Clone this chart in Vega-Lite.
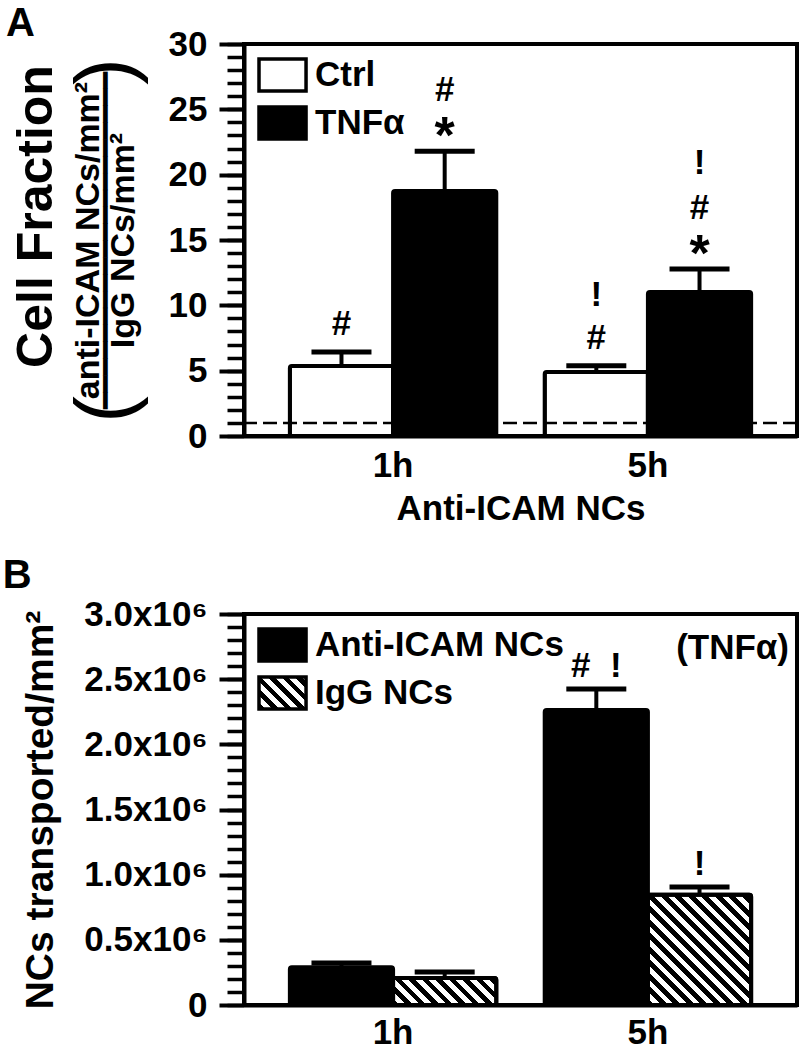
{
  "$schema": "https://vega.github.io/schema/vega-lite/v6.json",
  "padding": {"left": 0, "top": 2, "right": 0, "bottom": 0},
  "spacing": 26,
  "resolve": {"scale": {"fill": "independent", "xOffset": "independent", "x": "independent", "y": "independent"}, "legend": {"fill": "independent"}},
  "config": {
    "font": "Liberation Sans",
    "view": {"stroke": "black", "strokeWidth": 4},
    "axis": {
      "minExtent": 0, "maxExtent": 400, "grid": false,
      "domainColor": "black", "domainWidth": 4, "tickColor": "black",
      "labelColor": "black", "titleColor": "black",
      "labelFont": "Liberation Sans", "labelFontWeight": "bold", "labelFontSize": 35,
      "titleFont": "Liberation Sans", "titleFontWeight": "bold",
      "titleLimit": 1000, "labelLimit": 1000
    },
    "legend": {"labelFont": "Liberation Sans", "labelFontWeight": "bold", "labelFontSize": 35, "labelColor": "black", "labelLimit": 600}
  },
  "vconcat": [
    {
      "width": 553,
      "height": 392,
      "title": {"text": "A", "anchor": "start", "frame": "bounds", "fontSize": 40, "fontWeight": "bold", "font": "Liberation Sans", "baseline": "alphabetic", "offset": -49, "dx": -5},
      "data": {"values": [
        {"time": "1h", "group": "Ctrl", "mean": 5.35, "upper": 6.43, "t0": "#", "t1": "", "t2": "", "t3": "", "star": ""},
        {"time": "1h", "group": "TNFα", "mean": 18.75, "upper": 21.8, "t0": "", "t1": "#", "t2": "", "t3": "", "star": "*"},
        {"time": "5h", "group": "Ctrl", "mean": 4.9, "upper": 5.38, "t0": "#", "t1": "", "t2": "!", "t3": "", "star": ""},
        {"time": "5h", "group": "TNFα", "mean": 11.02, "upper": 12.78, "t0": "", "t1": "#", "t2": "", "t3": "!", "star": "*"}
      ]},
      "layer": [
        {
          "mark": {"type": "bar", "stroke": "black", "strokeWidth": 4, "cornerRadius": 2},
          "encoding": {
            "x": {"field": "time", "type": "nominal", "scale": {"domain": ["1h", "5h"], "paddingInner": 0.19, "paddingOuter": 0.18},
                  "axis": {"ticks": false, "labelPadding": 12, "labelAngle": 0, "title": "Anti-ICAM NCs", "titleFontSize": 35, "titlePadding": 8}},
            "xOffset": {"field": "group", "type": "nominal", "scale": {"domain": ["Ctrl", "TNFα"], "paddingInner": 0, "paddingOuter": 0}},
            "y": {"field": "mean", "type": "quantitative", "scale": {"domain": [0, 30], "nice": false},
                  "axis": {"orient": "left", "values": [0, 5, 10, 15, 20, 25, 30], "tickSize": 25, "tickWidth": 4, "labelPadding": 12,
                           "title": "Cell Fraction", "titleFontSize": 50, "titlePadding": 107, "titleY": 172}},
            "fill": {"field": "group", "type": "nominal", "scale": {"domain": ["Ctrl", "TNFα"], "range": ["white", "black"]},
                     "legend": {"title": null, "orient": "top-left", "offset": 13, "symbolType": "M-1,-1H1.94V1H-1Z", "symbolSize": 1024,
                                "symbolStrokeColor": "black", "symbolStrokeWidth": 3.5, "labelOffset": 22, "rowPadding": 2}}
          }
        },
        {
          "mark": {"type": "rule", "strokeWidth": 4, "color": "black"},
          "encoding": {
            "x": {"field": "time", "type": "nominal", "scale": {"domain": ["1h", "5h"], "paddingInner": 0.19, "paddingOuter": 0.18},
                  "axis": {"ticks": false, "labelPadding": 12, "labelAngle": 0, "title": "Anti-ICAM NCs", "titleFontSize": 35, "titlePadding": 8}},
            "xOffset": {"field": "group", "type": "nominal", "scale": {"domain": ["Ctrl", "TNFα"], "paddingInner": 0, "paddingOuter": 0}},
            "y": {"field": "mean", "type": "quantitative", "scale": {"domain": [0, 30], "nice": false},
                  "axis": {"orient": "left", "values": [0,1,2,3,4,5,6,7,8,9,10,11,12,13,14,15,16,17,18,19,20,21,22,23,24,25,26,27,28,29,30],
                           "tickSize": 17, "tickWidth": 3.5, "labels": false, "domain": false, "title": null}},
            "y2": {"field": "upper"}
          }
        },
        {
          "mark": {"type": "tick", "thickness": 5, "size": 60, "color": "black", "opacity": 1},
          "encoding": {
            "x": {"field": "time", "type": "nominal", "scale": {"domain": ["1h", "5h"], "paddingInner": 0.19, "paddingOuter": 0.18},
                  "axis": {"ticks": false, "labelPadding": 12, "labelAngle": 0, "title": "Anti-ICAM NCs", "titleFontSize": 35, "titlePadding": 8}},
            "xOffset": {"field": "group", "type": "nominal", "scale": {"domain": ["Ctrl", "TNFα"], "paddingInner": 0, "paddingOuter": 0}},
            "y": {"field": "upper", "type": "quantitative", "scale": {"domain": [0, 30], "nice": false},
                  "axis": {"orient": "left", "labels": false, "ticks": false, "domain": false,
                           "title": ["anti-ICAM NCs/mm²", "IgG NCs/mm²"], "titleFontSize": 34, "titleLineHeight": 35, "titlePadding": 104}}
          }
        },
        {
          "mark": {"type": "text", "baseline": "alphabetic", "dy": -16.5, "fontSize": 35, "fontWeight": "bold", "color": "black"},
          "encoding": {
            "x": {"field": "time", "type": "nominal", "scale": {"domain": ["1h", "5h"], "paddingInner": 0.19, "paddingOuter": 0.18},
                  "axis": {"ticks": false, "labelPadding": 12, "labelAngle": 0, "title": "Anti-ICAM NCs", "titleFontSize": 35, "titlePadding": 8}},
            "xOffset": {"field": "group", "type": "nominal", "scale": {"domain": ["Ctrl", "TNFα"], "paddingInner": 0, "paddingOuter": 0}},
            "y": {"field": "upper", "type": "quantitative", "scale": {"domain": [0, 30], "nice": false},
                  "axis": {"orient": "left", "labels": false, "ticks": false, "domain": false,
                           "title": "━━━━━━━━━━━━━━━━━━━━", "titleFont": "DejaVu Sans", "titleFontWeight": "normal", "titleFontSize": 28, "titlePadding": 124}},
            "text": {"field": "t0"}
          }
        },
        {
          "mark": {"type": "text", "baseline": "alphabetic", "dy": -50, "fontSize": 35, "fontWeight": "bold", "color": "black"},
          "encoding": {
            "x": {"field": "time", "type": "nominal", "scale": {"domain": ["1h", "5h"], "paddingInner": 0.19, "paddingOuter": 0.18},
                  "axis": {"ticks": false, "labelPadding": 12, "labelAngle": 0, "title": "Anti-ICAM NCs", "titleFontSize": 35, "titlePadding": 8}},
            "xOffset": {"field": "group", "type": "nominal", "scale": {"domain": ["Ctrl", "TNFα"], "paddingInner": 0, "paddingOuter": 0}},
            "y": {"field": "upper", "type": "quantitative", "scale": {"domain": [0, 30], "nice": false},
                  "axis": {"orient": "left", "labels": false, "ticks": false, "domain": false,
                           "title": "(\u00a0\u00a0\u00a0\u00a0\u00a0\u00a0\u00a0\u00a0\u00a0\u00a0\u00a0\u00a0\u00a0\u00a0)", "titleFontWeight": "normal", "titleFontSize": 80, "titlePadding": 97}},
            "text": {"field": "t1"}
          }
        },
        {
          "mark": {"type": "text", "baseline": "alphabetic", "dy": -60, "fontSize": 35, "fontWeight": "bold", "color": "black"},
          "encoding": {
            "x": {"field": "time", "type": "nominal", "scale": {"domain": ["1h", "5h"], "paddingInner": 0.19, "paddingOuter": 0.18},
                  "axis": {"ticks": false, "labelPadding": 12, "labelAngle": 0, "title": "Anti-ICAM NCs", "titleFontSize": 35, "titlePadding": 8}},
            "xOffset": {"field": "group", "type": "nominal", "scale": {"domain": ["Ctrl", "TNFα"], "paddingInner": 0, "paddingOuter": 0}},
            "y": {"field": "upper", "type": "quantitative", "scale": {"domain": [0, 30], "nice": false}, "axis": null},
            "text": {"field": "t2"}
          }
        },
        {
          "mark": {"type": "text", "baseline": "alphabetic", "dy": -95, "fontSize": 35, "fontWeight": "bold", "color": "black"},
          "encoding": {
            "x": {"field": "time", "type": "nominal", "scale": {"domain": ["1h", "5h"], "paddingInner": 0.19, "paddingOuter": 0.18},
                  "axis": {"ticks": false, "labelPadding": 12, "labelAngle": 0, "title": "Anti-ICAM NCs", "titleFontSize": 35, "titlePadding": 8}},
            "xOffset": {"field": "group", "type": "nominal", "scale": {"domain": ["Ctrl", "TNFα"], "paddingInner": 0, "paddingOuter": 0}},
            "y": {"field": "upper", "type": "quantitative", "scale": {"domain": [0, 30], "nice": false}, "axis": null},
            "text": {"field": "t3"}
          }
        },
        {
          "mark": {"type": "text", "baseline": "alphabetic", "dy": 2.2, "fontSize": 52, "fontWeight": "bold", "color": "black"},
          "encoding": {
            "x": {"field": "time", "type": "nominal", "scale": {"domain": ["1h", "5h"], "paddingInner": 0.19, "paddingOuter": 0.18},
                  "axis": {"ticks": false, "labelPadding": 12, "labelAngle": 0, "title": "Anti-ICAM NCs", "titleFontSize": 35, "titlePadding": 8}},
            "xOffset": {"field": "group", "type": "nominal", "scale": {"domain": ["Ctrl", "TNFα"], "paddingInner": 0, "paddingOuter": 0}},
            "y": {"field": "upper", "type": "quantitative", "scale": {"domain": [0, 30], "nice": false}, "axis": null},
            "text": {"field": "star"}
          }
        },
        {
          "data": {"values": [{"ref": 1}]},
          "mark": {"type": "rule", "strokeDash": [14, 6], "strokeWidth": 2.5, "color": "black"},
          "encoding": {
            "y": {"field": "ref", "type": "quantitative", "scale": {"domain": [0, 30], "nice": false}, "axis": null}
          }
        }
      ],
      "resolve": {"axis": {"y": "independent"}}
    },
    {
      "width": 553,
      "height": 391,
      "title": {"text": "B", "anchor": "start", "frame": "bounds", "fontSize": 40, "fontWeight": "bold", "font": "Liberation Sans", "baseline": "alphabetic", "offset": -31, "dx": -19},
      "data": {"values": [
        {"time": "1h", "group": "Anti-ICAM NCs", "mean": 290000, "upper": 323000, "note": ""},
        {"time": "1h", "group": "IgG NCs", "mean": 207000, "upper": 253000, "note": ""},
        {"time": "5h", "group": "Anti-ICAM NCs", "mean": 2263000, "upper": 2425000, "note": "#\u00a0\u00a0!"},
        {"time": "5h", "group": "IgG NCs", "mean": 845000, "upper": 905000, "note": "!"}
      ]},
      "layer": [
        {
          "mark": {"type": "bar", "stroke": "black", "strokeWidth": 4, "cornerRadius": 2},
          "encoding": {
            "x": {"field": "time", "type": "nominal", "scale": {"domain": ["1h", "5h"], "paddingInner": 0.19, "paddingOuter": 0.18},
                  "axis": {"ticks": false, "labelPadding": 10, "labelAngle": 0, "title": null}},
            "xOffset": {"field": "group", "type": "nominal", "scale": {"domain": ["Anti-ICAM NCs", "IgG NCs"], "paddingInner": 0, "paddingOuter": 0}},
            "y": {"field": "mean", "type": "quantitative", "scale": {"domain": [0, 3000000], "nice": false},
                  "axis": {"orient": "left", "values": [0, 500000, 1000000, 1500000, 2000000, 2500000, 3000000],
                           "labelExpr": "datum.value === 0 ? '0' : format(datum.value / 1000000, '.1f') + 'x10⁶'",
                           "tickSize": 25, "tickWidth": 4, "labelPadding": 12,
                           "title": "NCs transported/mm²", "titleFontSize": 39, "titlePadding": 23}},
            "fill": {
              "field": "group", "type": "nominal",
              "scale": {"domain": ["Anti-ICAM NCs", "IgG NCs"], "range": ["black", {"expr": "{gradient: 'linear', x1: 0, y1: 1, x2: 1.1485, y2: 0.2181, stops: [{offset: 0, color: 'black'}, {offset: 0.0854, color: 'black'}, {offset: 0.0854, color: 'white'}, {offset: 0.1709, color: 'white'}, {offset: 0.1709, color: 'black'}, {offset: 0.2563, color: 'black'}, {offset: 0.2563, color: 'white'}, {offset: 0.3418, color: 'white'}, {offset: 0.3418, color: 'black'}, {offset: 0.4272, color: 'black'}, {offset: 0.4272, color: 'white'}, {offset: 0.5127, color: 'white'}, {offset: 0.5127, color: 'black'}, {offset: 0.5981, color: 'black'}, {offset: 0.5981, color: 'white'}, {offset: 0.6836, color: 'white'}, {offset: 0.6836, color: 'black'}, {offset: 0.769, color: 'black'}, {offset: 0.769, color: 'white'}, {offset: 0.8544, color: 'white'}, {offset: 0.8544, color: 'black'}, {offset: 0.9399, color: 'black'}, {offset: 0.9399, color: 'white'}, {offset: 1, color: 'white'}]}"}]},
              "legend": {
                "title": null, "orient": "top-left", "offset": 13, "symbolType": "M-1,-1H1.94V1H-1Z", "symbolSize": 1024,
                "symbolStrokeColor": "black", "symbolStrokeWidth": 3.5, "labelOffset": 22, "rowPadding": 2
              }
            }
          }
        },
        {
          "transform": [{"filter": "datum.group === 'IgG NCs' && datum.time === '1h'"}],
          "mark": {"type": "bar", "stroke": "black", "strokeWidth": 4, "cornerRadius": 2,
                   "fill": {"gradient": "linear", "x1": 0, "y1": 1, "x2": 1.1808, "y2": 0.6911, "stops": [
                   {"offset": 0, "color": "black"}, {"offset": 0.0519, "color": "black"}, {"offset": 0.0519, "color": "white"}, {"offset": 0.1037, "color": "white"},
                   {"offset": 0.1037, "color": "black"}, {"offset": 0.1556, "color": "black"}, {"offset": 0.1556, "color": "white"}, {"offset": 0.2075, "color": "white"},
                   {"offset": 0.2075, "color": "black"}, {"offset": 0.2593, "color": "black"}, {"offset": 0.2593, "color": "white"}, {"offset": 0.3112, "color": "white"},
                   {"offset": 0.3112, "color": "black"}, {"offset": 0.3631, "color": "black"}, {"offset": 0.3631, "color": "white"}, {"offset": 0.4149, "color": "white"},
                   {"offset": 0.4149, "color": "black"}, {"offset": 0.4668, "color": "black"}, {"offset": 0.4668, "color": "white"}, {"offset": 0.5187, "color": "white"},
                   {"offset": 0.5187, "color": "black"}, {"offset": 0.5705, "color": "black"}, {"offset": 0.5705, "color": "white"}, {"offset": 0.6224, "color": "white"},
                   {"offset": 0.6224, "color": "black"}, {"offset": 0.6743, "color": "black"}, {"offset": 0.6743, "color": "white"}, {"offset": 0.7261, "color": "white"},
                   {"offset": 0.7261, "color": "black"}, {"offset": 0.778, "color": "black"}, {"offset": 0.778, "color": "white"}, {"offset": 0.8298, "color": "white"},
                   {"offset": 0.8298, "color": "black"}, {"offset": 0.8817, "color": "black"}, {"offset": 0.8817, "color": "white"}, {"offset": 0.9336, "color": "white"},
                   {"offset": 0.9336, "color": "black"}, {"offset": 0.9855, "color": "black"}, {"offset": 0.9855, "color": "white"}, {"offset": 1, "color": "white"}]}},
          "encoding": {
            "x": {"field": "time", "type": "nominal", "scale": {"domain": ["1h", "5h"], "paddingInner": 0.19, "paddingOuter": 0.18},
                  "axis": {"ticks": false, "labelPadding": 10, "labelAngle": 0, "title": null}},
            "xOffset": {"field": "group", "type": "nominal", "scale": {"domain": ["Anti-ICAM NCs", "IgG NCs"], "paddingInner": 0, "paddingOuter": 0}},
            "y": {"field": "mean", "type": "quantitative", "scale": {"domain": [0, 3000000], "nice": false}, "axis": null}
          }
        },
        {
          "transform": [{"filter": "datum.group === 'IgG NCs' && datum.time === '5h'"}],
          "mark": {"type": "bar", "stroke": "black", "strokeWidth": 4, "cornerRadius": 2,
                   "fill": {"gradient": "linear", "x1": 0, "y1": 1, "x2": 0.9667, "y2": -0.0313, "stops": [
                   {"offset": 0, "color": "black"}, {"offset": 0.0316, "color": "black"}, {"offset": 0.0316, "color": "white"}, {"offset": 0.0633, "color": "white"},
                   {"offset": 0.0633, "color": "black"}, {"offset": 0.0949, "color": "black"}, {"offset": 0.0949, "color": "white"}, {"offset": 0.1266, "color": "white"},
                   {"offset": 0.1266, "color": "black"}, {"offset": 0.1582, "color": "black"}, {"offset": 0.1582, "color": "white"}, {"offset": 0.1899, "color": "white"},
                   {"offset": 0.1899, "color": "black"}, {"offset": 0.2215, "color": "black"}, {"offset": 0.2215, "color": "white"}, {"offset": 0.2532, "color": "white"},
                   {"offset": 0.2532, "color": "black"}, {"offset": 0.2848, "color": "black"}, {"offset": 0.2848, "color": "white"}, {"offset": 0.3165, "color": "white"},
                   {"offset": 0.3165, "color": "black"}, {"offset": 0.3481, "color": "black"}, {"offset": 0.3481, "color": "white"}, {"offset": 0.3797, "color": "white"},
                   {"offset": 0.3797, "color": "black"}, {"offset": 0.4114, "color": "black"}, {"offset": 0.4114, "color": "white"}, {"offset": 0.443, "color": "white"},
                   {"offset": 0.443, "color": "black"}, {"offset": 0.4747, "color": "black"}, {"offset": 0.4747, "color": "white"}, {"offset": 0.5063, "color": "white"},
                   {"offset": 0.5063, "color": "black"}, {"offset": 0.538, "color": "black"}, {"offset": 0.538, "color": "white"}, {"offset": 0.5696, "color": "white"},
                   {"offset": 0.5696, "color": "black"}, {"offset": 0.6013, "color": "black"}, {"offset": 0.6013, "color": "white"}, {"offset": 0.6329, "color": "white"},
                   {"offset": 0.6329, "color": "black"}, {"offset": 0.6646, "color": "black"}, {"offset": 0.6646, "color": "white"}, {"offset": 0.6962, "color": "white"},
                   {"offset": 0.6962, "color": "black"}, {"offset": 0.7278, "color": "black"}, {"offset": 0.7278, "color": "white"}, {"offset": 0.7595, "color": "white"},
                   {"offset": 0.7595, "color": "black"}, {"offset": 0.7911, "color": "black"}, {"offset": 0.7911, "color": "white"}, {"offset": 0.8228, "color": "white"},
                   {"offset": 0.8228, "color": "black"}, {"offset": 0.8544, "color": "black"}, {"offset": 0.8544, "color": "white"}, {"offset": 0.8861, "color": "white"},
                   {"offset": 0.8861, "color": "black"}, {"offset": 0.9177, "color": "black"}, {"offset": 0.9177, "color": "white"}, {"offset": 0.9494, "color": "white"},
                   {"offset": 0.9494, "color": "black"}, {"offset": 0.981, "color": "black"}, {"offset": 0.981, "color": "white"}, {"offset": 1, "color": "white"}]}},
          "encoding": {
            "x": {"field": "time", "type": "nominal", "scale": {"domain": ["1h", "5h"], "paddingInner": 0.19, "paddingOuter": 0.18},
                  "axis": {"ticks": false, "labelPadding": 10, "labelAngle": 0, "title": null}},
            "xOffset": {"field": "group", "type": "nominal", "scale": {"domain": ["Anti-ICAM NCs", "IgG NCs"], "paddingInner": 0, "paddingOuter": 0}},
            "y": {"field": "mean", "type": "quantitative", "scale": {"domain": [0, 3000000], "nice": false}, "axis": null}
          }
        },
        {
          "mark": {"type": "rule", "strokeWidth": 4, "color": "black"},
          "encoding": {
            "x": {"field": "time", "type": "nominal", "scale": {"domain": ["1h", "5h"], "paddingInner": 0.19, "paddingOuter": 0.18},
                  "axis": {"ticks": false, "labelPadding": 10, "labelAngle": 0, "title": null}},
            "xOffset": {"field": "group", "type": "nominal", "scale": {"domain": ["Anti-ICAM NCs", "IgG NCs"], "paddingInner": 0, "paddingOuter": 0}},
            "y": {"field": "mean", "type": "quantitative", "scale": {"domain": [0, 3000000], "nice": false},
                  "axis": {"orient": "left", "values": [0,100000,200000,300000,400000,500000,600000,700000,800000,900000,1000000,1100000,1200000,1300000,1400000,1500000,1600000,1700000,1800000,1900000,2000000,2100000,2200000,2300000,2400000,2500000,2600000,2700000,2800000,2900000,3000000],
                           "tickSize": 17, "tickWidth": 3.5, "labels": false, "domain": false, "title": null}},
            "y2": {"field": "upper"}
          }
        },
        {
          "mark": {"type": "tick", "thickness": 5, "size": 60, "color": "black", "opacity": 1},
          "encoding": {
            "x": {"field": "time", "type": "nominal", "scale": {"domain": ["1h", "5h"], "paddingInner": 0.19, "paddingOuter": 0.18},
                  "axis": {"ticks": false, "labelPadding": 10, "labelAngle": 0, "title": null}},
            "xOffset": {"field": "group", "type": "nominal", "scale": {"domain": ["Anti-ICAM NCs", "IgG NCs"], "paddingInner": 0, "paddingOuter": 0}},
            "y": {"field": "upper", "type": "quantitative", "scale": {"domain": [0, 3000000], "nice": false}, "axis": null}
          }
        },
        {
          "mark": {"type": "text", "baseline": "alphabetic", "dy": -12, "fontSize": 35, "fontWeight": "bold", "color": "black"},
          "encoding": {
            "x": {"field": "time", "type": "nominal", "scale": {"domain": ["1h", "5h"], "paddingInner": 0.19, "paddingOuter": 0.18},
                  "axis": {"ticks": false, "labelPadding": 10, "labelAngle": 0, "title": null}},
            "xOffset": {"field": "group", "type": "nominal", "scale": {"domain": ["Anti-ICAM NCs", "IgG NCs"], "paddingInner": 0, "paddingOuter": 0}},
            "y": {"field": "upper", "type": "quantitative", "scale": {"domain": [0, 3000000], "nice": false}, "axis": null},
            "text": {"field": "note"}
          }
        },
        {
          "data": {"values": [{"label": "(TNFα)"}]},
          "mark": {"type": "text", "align": "right", "baseline": "top", "dx": -8, "dy": 17, "fontSize": 35, "fontWeight": "bold", "color": "black"},
          "encoding": {
            "x": {"value": "width"},
            "y": {"datum": 3000000, "type": "quantitative", "scale": {"domain": [0, 3000000], "nice": false}, "axis": null},
            "text": {"field": "label"}
          }
        }
      ],
      "resolve": {"axis": {"y": "independent"}}
    }
  ]
}
